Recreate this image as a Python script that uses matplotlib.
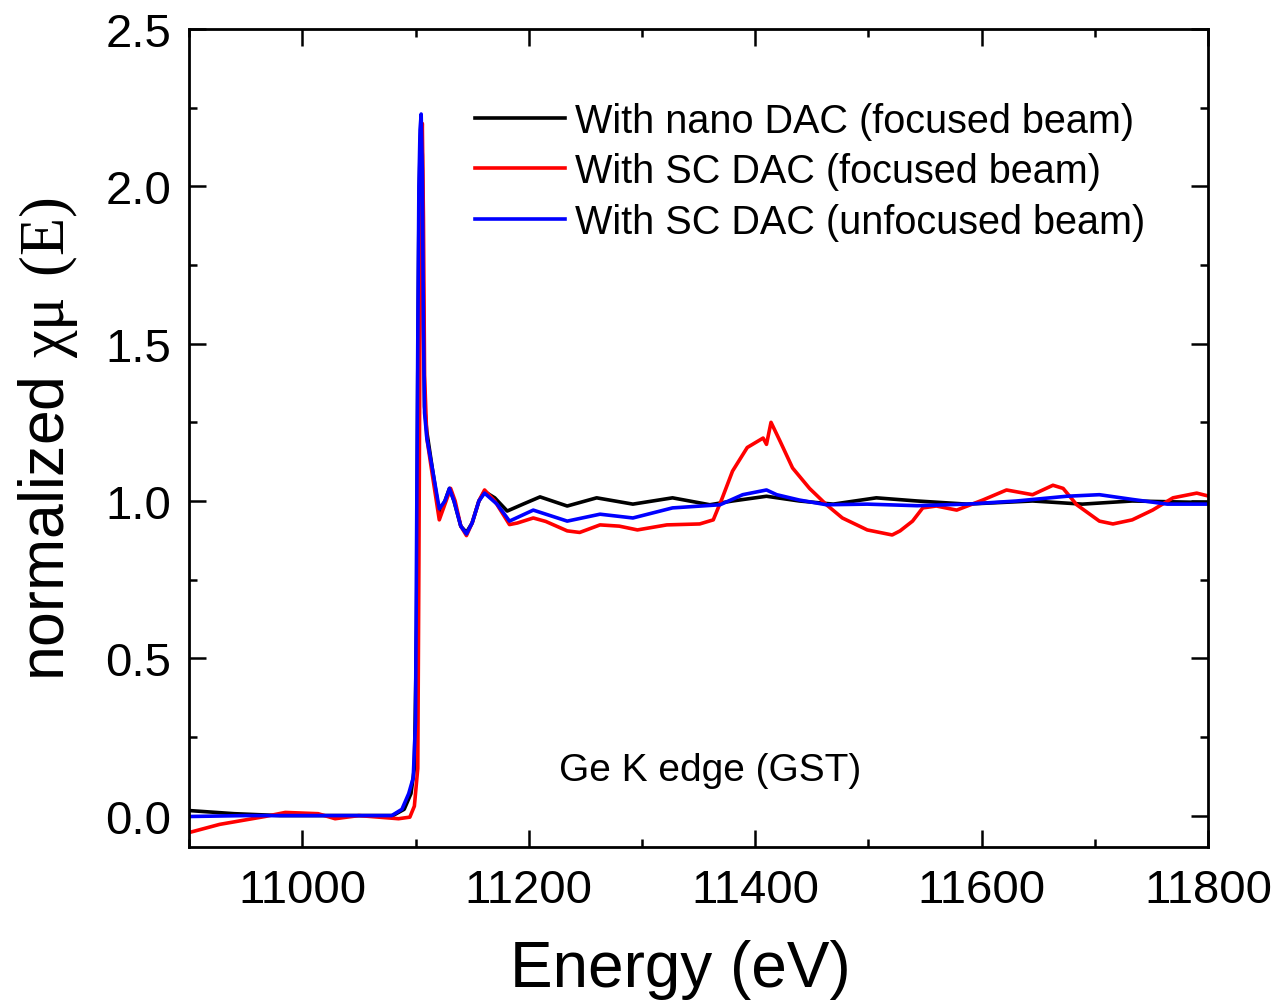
import numpy as np
import matplotlib
matplotlib.use('Agg')
import matplotlib.pyplot as plt
from matplotlib.ticker import MultipleLocator

plt.rcParams['font.family'] = ['Liberation Sans', 'DejaVu Sans']
plt.rcParams['mathtext.fontset'] = 'custom'
plt.rcParams['mathtext.rm'] = 'Liberation Serif'

# data (energy in eV, normalized absorption)
e_nano = [10900, 10940, 10980, 11030, 11080, 11090, 11096, 11099, 11101, 11102, 11103,
          11104, 11105, 11106, 11107, 11108, 11110, 11115, 11121, 11126, 11130, 11134,
          11140, 11145, 11150, 11156, 11161, 11170, 11181, 11195, 11210, 11234, 11260,
          11292, 11327, 11360, 11380, 11410, 11439, 11469, 11507, 11543, 11587, 11645,
          11689, 11733, 11800]
mu_nano = [0.016, 0.006, 0.0, 0.0, 0.0, 0.02, 0.07, 0.15, 0.6, 1.4, 1.9,
           2.12, 2.2, 2.1, 1.6, 1.3, 1.22, 1.1, 0.96, 1.0, 1.04, 1.0,
           0.92, 0.9, 0.93, 1.0, 1.03, 1.01, 0.968, 0.99, 1.013, 0.984, 1.01,
           0.99, 1.01, 0.988, 1.0, 1.015, 1.0, 0.99, 1.01, 1.0, 0.99, 1.0,
           0.99, 1.0, 0.995]

e_sc_foc = [10900, 10927, 10967, 10985, 11014, 11029, 11050, 11085, 11095, 11099, 11102,
            11103, 11104, 11105, 11106, 11107, 11108, 11110, 11115, 11121, 11126, 11131,
            11135, 11140, 11145, 11150, 11156, 11161, 11170, 11183, 11190, 11204, 11215,
            11234, 11245, 11263, 11280, 11296, 11322, 11351, 11363, 11371, 11380, 11393,
            11407, 11410, 11414, 11422, 11433, 11448, 11463, 11477, 11499, 11521, 11528,
            11539, 11548, 11560, 11578, 11601, 11622, 11645, 11663, 11672, 11684, 11704,
            11716, 11733, 11751, 11769, 11790, 11800]
mu_sc_foc = [-0.054, -0.028, -0.003, 0.01, 0.006, -0.01, 0.0, -0.01, -0.005, 0.03, 0.15,
             0.8, 1.6, 2.0, 2.2, 1.9, 1.4, 1.2, 1.08, 0.94, 0.99, 1.04,
             1.0, 0.92, 0.89, 0.93, 1.0, 1.035, 1.0, 0.925, 0.93, 0.946, 0.935,
             0.905, 0.9, 0.924, 0.92, 0.908, 0.924, 0.927, 0.94, 1.01, 1.095, 1.17,
             1.2, 1.18, 1.25, 1.19, 1.105, 1.04, 0.988, 0.946, 0.908, 0.892, 0.905,
             0.936, 0.978, 0.984, 0.971, 1.003, 1.035, 1.02, 1.05, 1.04, 0.988, 0.936,
             0.927, 0.94, 0.971, 1.01, 1.025, 1.016]

e_sc_unf = [10900, 10950, 11000, 11050, 11079, 11088, 11094, 11098, 11100, 11101, 11102,
            11103, 11104, 11105, 11106, 11107, 11108, 11110, 11115, 11121, 11126, 11130,
            11134, 11140, 11145, 11150, 11156, 11161, 11172, 11183, 11204, 11234, 11263,
            11292, 11327, 11369, 11389, 11410, 11419, 11439, 11463, 11499, 11543, 11587,
            11631, 11675, 11704, 11733, 11764, 11800]
mu_sc_unf = [-0.003, 0.0, 0.0, 0.0, 0.0, 0.02, 0.07, 0.12, 0.3, 0.9, 1.5,
             2.0, 2.18, 2.23, 2.05, 1.55, 1.28, 1.2, 1.1, 0.975, 1.0, 1.04,
             1.0, 0.92, 0.895, 0.93, 1.0, 1.025, 0.99, 0.936, 0.971, 0.936, 0.958,
             0.946, 0.978, 0.988, 1.02, 1.035, 1.02, 1.003, 0.988, 0.99, 0.985, 0.99,
             1.0, 1.015, 1.02, 1.005, 0.99, 0.99]

labels = ['With nano DAC (focused beam)', 'With SC DAC (focused beam)',
          'With SC DAC (unfocused beam)']

fig = plt.figure(figsize=(12.8, 10.03), dpi=100)
ax = fig.add_axes([0.1477, 0.1545, 0.7961, 0.8155])

ax.plot(e_nano, mu_nano, color='black', lw=2.6, label=labels[0])
ax.plot(e_sc_foc, mu_sc_foc, color='#ff0000', lw=2.6, label=labels[1])
ax.plot(e_sc_unf, mu_sc_unf, color='#0000ff', lw=2.6, label=labels[2])

ax.set_xlim(10900, 11800)
ax.set_ylim(-0.1, 2.5)
ax.xaxis.set_major_locator(MultipleLocator(200))
ax.xaxis.set_minor_locator(MultipleLocator(100))
ax.yaxis.set_major_locator(MultipleLocator(0.5))
ax.yaxis.set_minor_locator(MultipleLocator(0.25))
ax.yaxis.set_major_formatter(matplotlib.ticker.FormatStrFormatter('%.1f'))

ax.tick_params(which='both', direction='in', top=True, right=True, width=1.8)
ax.tick_params(which='major', length=12, labelsize=34)
ax.tick_params(which='minor', length=6)
ax.tick_params(axis='x', pad=15)
ax.tick_params(axis='y', pad=13)
for s in ax.spines.values():
    s.set_linewidth(2)

ax.set_xlabel('Energy (eV)', fontsize=46)
ax.set_ylabel(r'normalized $\mathrm{χμ\ (E)}$', fontsize=45, labelpad=18)
ax.xaxis.set_label_coords(0.482, -0.112)

ax.text(11360, 0.145, 'Ge K edge (GST)', fontsize=28, ha='center', va='center')

ax.legend(loc='upper left', bbox_to_anchor=(0.261, 0.9355), frameon=False,
          fontsize=28.5, borderpad=0, handlelength=2.27, handletextpad=0.25,
          labelspacing=0.32)

fig.savefig('out.png', dpi=100)
